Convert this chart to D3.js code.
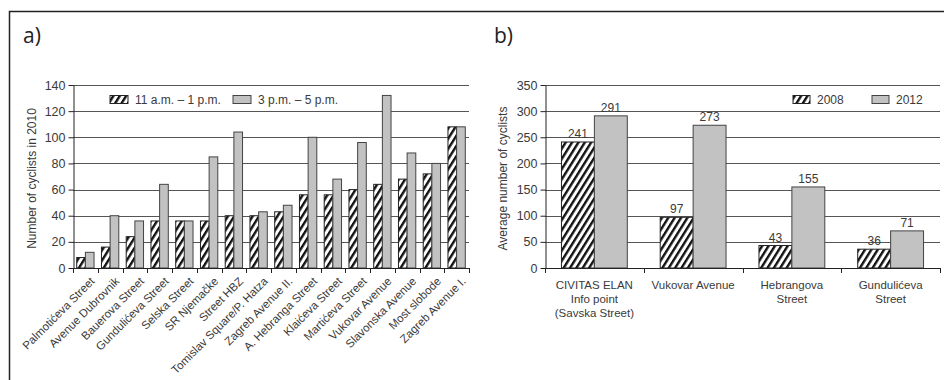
<!DOCTYPE html>
<html>
<head>
<meta charset="utf-8">
<script src="https://cdn.jsdelivr.net/npm/d3@7"></script>
<style>
  html, body { margin: 0; padding: 0; background: #fff; }
  svg { display: block; font-family: "Liberation Sans", Arial, sans-serif; }
</style>
</head>
<body>
<svg id="chart" width="944" height="380"></svg>
<script>
// panel a: cyclists counted in 2010 by location and time window
const streetsA = [
  "Palmotićeva Street", "Avenue Dubrovnik", "Bauerova Street", "Gundulićeva Street",
  "Selska Street", "SR Njemačke", "Street HBZ", "Tomislav Square/P. Hatza",
  "Zagreb Avenue II.", "A. Hebranga Street", "Klaićeva Street", "Martićeva Street",
  "Vukovar Avenue", "Slavonska Avenue", "Most slobode", "Zagreb Avenue I."
];
const middayA = [8, 16, 24, 36, 36, 36, 40, 40, 43, 56, 56, 60, 64, 68, 72, 108];
const afternoonA = [12, 40, 36, 64, 36, 85, 104, 43, 48, 100, 68, 96, 132, 88, 80, 108];
const seriesA = ["11 a.m. – 1 p.m.", "3 p.m. – 5 p.m."];
const ticksA = [0, 20, 40, 60, 80, 100, 120, 140];

// panel b: average cyclists 2008 vs 2012
const sitesB = [
  ["CIVITAS ELAN", "Info point", "(Savska Street)"],
  ["Vukovar Avenue"],
  ["Hebrangova", "Street"],
  ["Gundulićeva", "Street"]
];
const values2008 = [241, 97, 43, 36];
const values2012 = [291, 273, 155, 71];
const seriesB = ["2008", "2012"];
const ticksB = [0, 50, 100, 150, 200, 250, 300, 350];

const svg = d3.select("#chart");
const TEXT = "#3a3a3a";
const GREY = "#c2c2c2";

const defs = svg.append("defs");
defs.append("pattern")
  .attr("id", "hatch")
  .attr("patternUnits", "userSpaceOnUse")
  .attr("width", 5.4)
  .attr("height", 6)
  .attr("patternTransform", "rotate(32)")
  .call((p) => {
    p.append("rect").attr("width", 5.4).attr("height", 6).attr("fill", "#fff");
    p.append("rect").attr("width", 2.4).attr("height", 6).attr("fill", "#111");
  });

// outer frame (left + top only)
svg.append("path")
  .attr("d", "M9.5,380 V11.5 H944")
  .attr("fill", "none")
  .attr("stroke", "#222")
  .attr("stroke-width", 1.5);

svg.append("text").attr("x", 23).attr("y", 43)
  .style("font-family", "'Open Sans', sans-serif").style("font-size", "21px")
  .attr("fill", "#222").text("a)");
svg.append("text").attr("x", 494).attr("y", 43)
  .style("font-family", "'Open Sans', sans-serif").style("font-size", "21px")
  .attr("fill", "#222").text("b)");

function drawPanel({ left, right, top, bottom, categories, values, ticks, padFrac, yTitle, titleX }) {
  const x0 = d3.scaleBand().domain(d3.range(categories.length)).range([left, right]).padding(0);
  const x1 = d3.scaleBand().domain([0, 1])
    .range([x0.bandwidth() * padFrac, x0.bandwidth() * (1 - padFrac)]).padding(0);
  const y = d3.scaleLinear().domain([0, ticks[ticks.length - 1]]).range([bottom, top]);
  const g = svg.append("g");

  // gridlines
  g.append("g").selectAll("line").data(ticks.slice(1)).join("line")
    .attr("x1", left).attr("x2", right)
    .attr("y1", (d) => Math.round(y(d)) + 0.5).attr("y2", (d) => Math.round(y(d)) + 0.5)
    .attr("stroke", "#555").attr("stroke-width", 1);

  // bars
  const groups = g.append("g").selectAll("g").data(categories).join("g")
    .attr("transform", (d, i) => `translate(${x0(i)},0)`);
  values.forEach((vals, s) => {
    groups.append("rect")
      .attr("x", x1(s))
      .attr("width", x1.bandwidth())
      .attr("y", (d, i) => y(vals[i]))
      .attr("height", (d, i) => y(0) - y(vals[i]))
      .attr("fill", s === 0 ? "url(#hatch)" : GREY)
      .attr("stroke", s === 0 ? "#222" : "#444")
      .attr("stroke-width", 1);
  });

  // y axis
  const yAxis = g.append("g")
    .attr("transform", `translate(${left + 0.5},0)`)
    .call(d3.axisLeft(y).tickValues(ticks).tickSize(5).tickSizeOuter(0));
  yAxis.select(".domain").attr("stroke", "#222");
  yAxis.selectAll(".tick line").attr("stroke", "#222");
  yAxis.selectAll(".tick text")
    .attr("x", -8)
    .style("font-size", "12.5px").style("font-family", "'Liberation Sans', Arial, sans-serif")
    .attr("fill", TEXT);

  // x axis with ticks on category boundaries
  const boundaries = x0.domain().map((i) => x0(i)).concat([right]);
  g.append("line")
    .attr("x1", left).attr("x2", right)
    .attr("y1", bottom + 0.5).attr("y2", bottom + 0.5)
    .attr("stroke", "#222");
  g.append("g").selectAll("line").data(boundaries).join("line")
    .attr("x1", (d) => Math.round(d) + 0.5).attr("x2", (d) => Math.round(d) + 0.5)
    .attr("y1", bottom).attr("y2", bottom + 5)
    .attr("stroke", "#222");

  g.append("text")
    .attr("transform", `translate(${titleX},${(top + bottom) / 2 + 2}) rotate(-90)`)
    .attr("text-anchor", "middle")
    .style("font-size", "12px")
    .attr("fill", TEXT)
    .text(yTitle);

  return { x0, x1, y, g };
}

// ---- panel a ----
const a = drawPanel({
  left: 73, right: 469, top: 85, bottom: 268,
  categories: streetsA, values: [middayA, afternoonA],
  ticks: ticksA, padFrac: 0.15, yTitle: "Number of cyclists in 2010", titleX: 36
});

a.g.append("g").selectAll("text").data(streetsA).join("text")
  .attr("transform", (d, i) => `translate(${a.x0(i) + a.x0.bandwidth() / 2 + 10},${282}) rotate(-45)`)
  .attr("text-anchor", "end")
  .style("font-size", "11.5px")
  .attr("fill", TEXT)
  .text((d) => d);

// legend a
const legendA = [
  { label: seriesA[0], x: 110, fill: "url(#hatch)", stroke: "#222" },
  { label: seriesA[1], x: 233, fill: GREY, stroke: "#444" }
];
legendA.forEach((d) => {
  a.g.append("rect").attr("x", d.x).attr("y", 95.5).attr("width", 18).attr("height", 8)
    .attr("fill", d.fill).attr("stroke", d.stroke);
  a.g.append("text").attr("x", d.x + 25).attr("y", 104)
    .style("font-size", "12px").attr("fill", TEXT).text(d.label);
});

// ---- panel b ----
const b = drawPanel({
  left: 545, right: 940, top: 85, bottom: 268,
  categories: sitesB, values: [values2008, values2012],
  ticks: ticksB, padFrac: 1 / 6, yTitle: "Average number of cyclists", titleX: 507
});

[values2008, values2012].forEach((vals, s) => {
  b.g.append("g").selectAll("text").data(vals).join("text")
    .attr("x", (d, i) => b.x0(i) + b.x1(s) + b.x1.bandwidth() / 2)
    .attr("y", (d) => b.y(d) - 4)
    .attr("text-anchor", "middle")
    .style("font-size", "12px")
    .attr("fill", TEXT)
    .text((d) => d);
});

b.g.append("g").selectAll("text").data(sitesB).join("text")
  .attr("text-anchor", "middle")
  .style("font-size", "11.5px")
  .attr("fill", TEXT)
  .each(function (lines, i) {
    const cx = b.x0(i) + b.x0.bandwidth() / 2;
    d3.select(this).selectAll("tspan").data(lines).join("tspan")
      .attr("x", cx)
      .attr("y", (d, k) => 289 + k * 14.2)
      .text((d) => d);
  });

const legendB = [
  { label: seriesB[0], x: 793, fill: "url(#hatch)", stroke: "#222" },
  { label: seriesB[1], x: 872, fill: GREY, stroke: "#444" }
];
legendB.forEach((d) => {
  b.g.append("rect").attr("x", d.x).attr("y", 95.5).attr("width", 17).attr("height", 8)
    .attr("fill", d.fill).attr("stroke", d.stroke);
  b.g.append("text").attr("x", d.x + 24).attr("y", 104)
    .style("font-size", "12px").attr("fill", TEXT).text(d.label);
});
</script>
</body>
</html>
